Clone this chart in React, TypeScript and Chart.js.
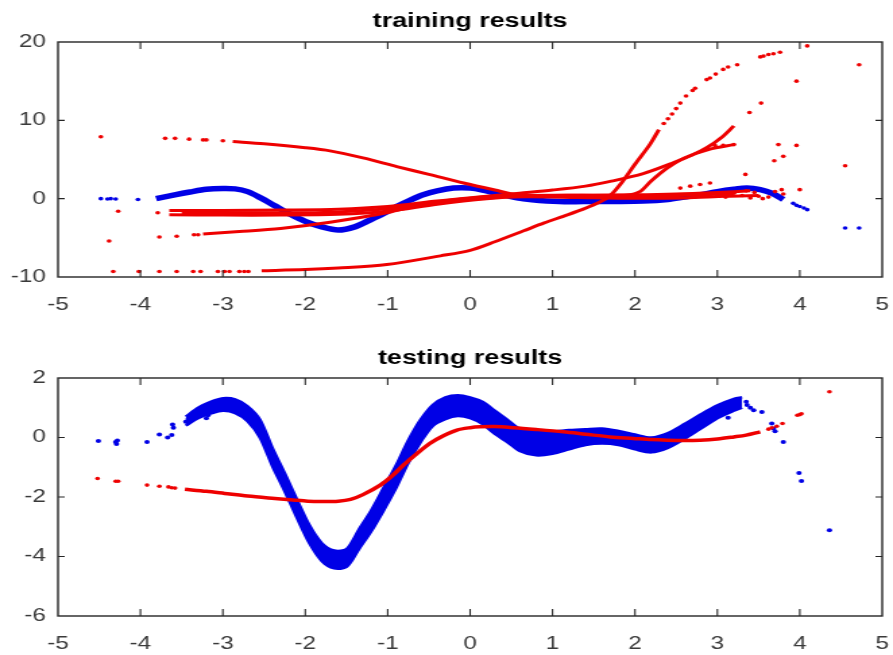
import React, { useEffect, useRef } from 'react';
import { Chart, registerables } from 'chart.js';
Chart.register(...registerables);

// ---------- tick labels ----------
const xTickVals = [-5, -4, -3, -2, -1, 0, 1, 2, 3, 4, 5];
const trainYTicks = [-10, 0, 10, 20];
const testYTicks = [-6, -4, -2, 0, 2];

// ---------- training: blue (targets) ----------
const trainBlueX = [-3.81, -3.6, -3.4, -3.2, -3.0, -2.85, -2.7, -2.55, -2.37, -2.2, -2.0, -1.8, -1.6, -1.4, -1.21, -1.05, -0.89, -0.73, -0.57, -0.4, -0.2, 0.0, 0.15, 0.35, 0.57, 0.75, 0.93, 1.2, 1.5, 1.8, 2.1, 2.4, 2.6, 2.8, 3.0, 3.2, 3.36, 3.52, 3.66, 3.8];
const trainBlueY = [0.0, 0.45, 0.85, 1.2, 1.3, 1.25, 0.9, 0.15, -0.9, -1.9, -2.9, -3.6, -4.0, -3.6, -2.7, -1.9, -1.0, -0.2, 0.5, 1.0, 1.35, 1.35, 1.1, 0.6, 0.1, -0.15, -0.3, -0.4, -0.35, -0.35, -0.3, -0.1, 0.2, 0.5, 0.9, 1.2, 1.35, 1.15, 0.7, -0.1];
const trainBlueDotsX = [-4.48, -4.4, -4.36, -4.3, -4.03, 3.92, 3.96, 4.0, 4.05, 4.09, 4.55, 4.72];
const trainBlueDotsY = [0.0, -0.05, 0.0, -0.05, -0.1, -0.6, -0.85, -1.0, -1.2, -1.4, -3.75, -3.75];

// ---------- training: red (network outputs) ----------
const lineAX = [-2.88, -2.5, -2.0, -1.7, -1.3, -0.89, -0.5, -0.08, 0.3, 0.57, 0.9, 1.3, 1.8, 2.3, 2.8, 3.2];
const lineAY = [7.3, 7.0, 6.5, 6.1, 5.2, 4.1, 3.1, 2.0, 1.1, 0.5, 0.35, 0.3, 0.3, 0.35, 0.5, 0.6];
const lineBX = [-3.65, -3.0, -2.3, -1.6, -1.0, -0.4, 0.2, 0.6, 1.0, 1.4, 1.7, 2.1, 2.47, 2.7, 2.87, 3.05, 3.2];
const lineBY = [-1.5, -1.5, -1.45, -1.35, -1.0, -0.3, 0.3, 0.7, 1.1, 1.6, 2.2, 3.2, 4.6, 5.6, 6.5, 7.8, 9.3];
const lineHX = [-3.5, -2.8, -2.0, -1.6, -1.0, -0.4, 0.2, 0.7, 1.3, 2.0, 2.6, 3.1, 3.5];
const lineHY = [-1.8, -1.8, -1.8, -1.7, -1.3, -0.5, 0.1, 0.25, 0.15, 0.05, 0.1, 0.3, 0.4];
const lineGX = [-3.65, -3.0, -2.3, -1.6, -1.0, -0.4, 0.2, 0.7, 1.3, 2.0, 2.5, 3.0, 3.4];
const lineGY = [-2.05, -2.1, -2.1, -2.0, -1.6, -0.7, 0.0, 0.35, 0.45, 0.5, 0.6, 0.8, 1.0];
const lineDX = [-3.24, -2.8, -2.3, -1.7, -1.01, -0.49, 0.0, 0.57, 1.1, 1.6, 1.9, 2.06, 2.2, 2.39, 2.6, 2.9, 3.2];
const lineDY = [-4.5, -4.2, -3.8, -3.0, -1.8, -0.55, 0.05, 0.4, 0.45, 0.4, 0.45, 0.9, 2.3, 3.9, 5.2, 6.3, 6.9];
const lineEX = [-2.53, -2.0, -1.6, -1.01, -0.36, 0.0, 0.3, 0.65, 0.9, 1.13, 1.38, 1.58, 1.7, 1.85, 2.0, 2.18, 2.29];
const lineEY = [-9.2, -9.05, -8.85, -8.4, -7.3, -6.6, -5.5, -4.1, -3.1, -2.25, -1.3, -0.4, 0.4, 2.2, 4.4, 6.9, 8.8];
const trainRedDotsX = [
  -4.33, -4.02, -3.77, -3.56, -3.36, -3.27, -3.06, -2.98, -2.92, -2.8, -2.74, -2.69,
  2.35, 2.4, 2.45, 2.5, 2.55, 2.62, 2.7, 2.73, 2.87, 2.91, 2.98, 3.07, 3.13, 3.24, 3.52, 3.56, 3.62, 3.68, 3.76, 4.09,
  -4.48, -3.7, -3.58, -3.41, -3.24, -3.2, -3.0, -4.27, -3.79, -4.38, -3.77, -3.56, -3.35, -3.3,
  3.96, 3.39, 3.53, 3.74, 3.96, 3.8, 3.69, 3.34, 4.0, 3.78, 4.72, 4.55, 3.2, 3.07, 2.97,
  2.91, 2.79, 2.67, 2.55, 3.0, 3.1, 3.2, 3.3, 3.4, 3.5, 3.55, 3.62, 3.7, 3.8, 3.35, 3.45
];
const trainRedDotsY = [
  -9.3, -9.3, -9.3, -9.3, -9.3, -9.3, -9.3, -9.3, -9.3, -9.3, -9.3, -9.3,
  9.6, 10.2, 10.8, 11.5, 12.2, 13.1, 13.8, 14.1, 15.2, 15.4, 15.9, 16.5, 16.8, 17.1, 18.1, 18.2, 18.4, 18.5, 18.7, 19.5,
  7.9, 7.7, 7.7, 7.6, 7.5, 7.5, 7.4, -1.6, -1.8, -5.4, -4.9, -4.8, -4.6, -4.6,
  15.0, 11.0, 12.2, 6.9, 6.8, 5.4, 4.85, 3.1, 1.15, 1.15, 17.1, 4.2, 6.9, 6.8, 6.8,
  2.0, 1.8, 1.6, 1.35, 0.5, 0.2, 0.7, 0.4, 0.1, 0.3, 0.0, 0.2, 0.9, 0.6, 1.0, 0.8
];

// ---------- testing: blue band (upper / lower edge of the cloud) ----------
const testBandX = [-3.45, -3.3, -3.15, -3.0, -2.85, -2.7, -2.55, -2.4, -2.25, -2.1, -1.95, -1.8, -1.65, -1.5, -1.35, -1.2, -1.05, -0.9, -0.75, -0.6, -0.45, -0.3, -0.15, 0.0, 0.15, 0.3, 0.45, 0.6, 0.8, 1.0, 1.2, 1.4, 1.6, 1.8, 2.0, 2.2, 2.4, 2.6, 2.8, 3.0, 3.2, 3.3];
const testUpperY = [0.7, 1.0, 1.2, 1.32, 1.28, 1.05, 0.6, -0.35, -1.2, -2.1, -2.95, -3.55, -3.8, -3.75, -3.1, -2.45, -1.7, -0.95, -0.1, 0.6, 1.1, 1.35, 1.42, 1.35, 1.2, 0.9, 0.6, 0.3, 0.2, 0.2, 0.25, 0.28, 0.3, 0.22, 0.1, 0.0, 0.15, 0.45, 0.78, 1.08, 1.3, 1.35];
const testLowerY = [0.4, 0.65, 0.8, 0.9, 0.82, 0.55, 0.0, -0.95, -1.8, -2.7, -3.55, -4.15, -4.4, -4.35, -3.75, -3.15, -2.45, -1.7, -0.85, -0.15, 0.4, 0.62, 0.72, 0.65, 0.45, 0.12, -0.15, -0.45, -0.6, -0.55, -0.4, -0.25, -0.2, -0.25, -0.4, -0.5, -0.35, -0.05, 0.3, 0.65, 0.9, 1.0];
const testBlueDotsX = [-4.51, -4.3, -4.29, -4.28, -3.92, -3.77, -3.67, -3.62, -3.6, -3.61, -3.45, -3.42, -3.38, -3.35, -3.3, -3.28, -3.25, -3.2, -3.18, 3.13, 3.35, 3.36, 3.4, 3.44, 3.54, 3.66, 3.68, 3.7, 3.8, 3.99, 4.02, 4.36];
const testBlueDotsY = [-0.12, -0.15, -0.22, -0.1, -0.15, 0.1, 0.0, 0.08, 0.33, 0.44, 0.53, 0.62, 0.72, 0.78, 0.7, 0.95, 0.82, 0.65, 0.75, 0.66, 1.2, 1.09, 1.0, 0.92, 0.86, 0.47, 0.3, 0.21, -0.15, -1.19, -1.46, -3.12];

// ---------- testing: red (network output) ----------
const testRedX = [-3.46, -3.2, -2.98, -2.7, -2.37, -2.15, -1.97, -1.8, -1.6, -1.45, -1.3, -1.09, -0.95, -0.81, -0.65, -0.49, -0.33, -0.16, 0.0, 0.12, 0.3, 0.53, 0.8, 1.13, 1.4, 1.7, 1.98, 2.2, 2.39, 2.6, 2.79, 3.0, 3.2, 3.35, 3.52];
const testRedY = [-1.74, -1.81, -1.88, -1.97, -2.05, -2.1, -2.14, -2.15, -2.14, -2.08, -1.92, -1.6, -1.3, -0.93, -0.55, -0.2, 0.05, 0.25, 0.33, 0.36, 0.37, 0.33, 0.27, 0.19, 0.11, 0.02, -0.03, -0.07, -0.09, -0.1, -0.09, -0.05, 0.02, 0.08, 0.19];
const testRedDotsX = [-4.52, -4.3, -4.27, -3.92, -3.77, -3.66, -3.62, -3.58, 3.62, 3.66, 3.72, 3.79, 3.97, 4.0, 4.02, 4.36];
const testRedDotsY = [-1.38, -1.47, -1.47, -1.6, -1.64, -1.66, -1.69, -1.7, 0.28, 0.33, 0.38, 0.47, 0.75, 0.77, 0.8, 1.54];

const RED = 'rgb(238,0,0)';
const BLUE = 'rgb(0,0,230)';
const FONT = 'Liberation Sans, Arial, sans-serif';

const pts = (xs: number[], ys: number[]) => xs.map((x, i) => ({ x, y: ys[i] }));

const lineDs = (xs: number[], ys: number[], color: string, width: number) => ({
  type: 'line' as const,
  data: pts(xs, ys),
  borderColor: color,
  backgroundColor: color,
  borderWidth: width,
  pointRadius: 0,
  tension: 0.3,
  fill: false,
});

const dotDs = (xs: number[], ys: number[], color: string, r: number) => ({
  type: 'line' as const,
  data: pts(xs, ys),
  showLine: false,
  borderColor: color,
  backgroundColor: color,
  pointBackgroundColor: color,
  pointBorderWidth: 0,
  pointRadius: r,
});

const framePlugin = {
  id: 'matlabFrame',
  afterDatasetsDraw(chart: any) {
    const { ctx, chartArea: a, scales } = chart;
    const xs = scales.x;
    const ys = scales.y;
    ctx.save();
    ctx.strokeStyle = '#262626';
    ctx.lineWidth = 1.1;
    ctx.beginPath();
    xs.ticks.forEach((t: any) => {
      const px = xs.getPixelForValue(t.value);
      if (px <= a.left + 1 || px >= a.right - 1) return;
      ctx.moveTo(px, a.bottom);
      ctx.lineTo(px, a.bottom - 7);
      ctx.moveTo(px, a.top);
      ctx.lineTo(px, a.top + 7);
    });
    ys.ticks.forEach((t: any) => {
      const py = ys.getPixelForValue(t.value);
      if (py <= a.top + 1 || py >= a.bottom - 1) return;
      ctx.moveTo(a.left, py);
      ctx.lineTo(a.left + 5, py);
      ctx.moveTo(a.right, py);
      ctx.lineTo(a.right - 5, py);
    });
    ctx.stroke();
    ctx.lineWidth = 1.4;
    ctx.strokeRect(a.left, a.top, a.right - a.left, a.bottom - a.top);
    ctx.restore();
  },
};

function makeOptions(
  title: string,
  padTop: number,
  padBottom: number,
  xAxisHeight: number,
  yTicks: number[],
) {
  const tickFont = { family: FONT, size: 18 };
  return {
    responsive: false,
    animation: false as const,
    events: [],
    layout: { padding: { left: 0, right: 8, top: 0, bottom: 0 } },
    plugins: {
      legend: { display: false },
      tooltip: { enabled: false },
      title: {
        display: true,
        text: title,
        fullSize: false,
        color: '#000',
        font: { family: FONT, size: 20, weight: 'bold' as const },
        padding: { top: padTop, bottom: padBottom },
      },
    },
    scales: {
      x: {
        type: 'linear' as const,
        min: xTickVals[0],
        max: xTickVals[xTickVals.length - 1],
        afterBuildTicks: (s: any) => {
          s.ticks = xTickVals.map((v) => ({ value: v }));
        },
        afterFit: (s: any) => {
          s.height = xAxisHeight;
          s.paddingLeft = 0;
          s.paddingRight = 0;
        },
        grid: { display: false, drawTicks: false },
        border: { display: false },
        ticks: {
          padding: 17,
          color: '#3a3a3a',
          font: tickFont,
          autoSkip: false,
          maxRotation: 0,
          callback: (v: any) => String(v),
        },
      },
      y: {
        type: 'linear' as const,
        min: yTicks[0],
        max: yTicks[yTicks.length - 1],
        afterBuildTicks: (s: any) => {
          s.ticks = yTicks.map((v) => ({ value: v }));
        },
        afterFit: (s: any) => {
          s.width = 43;
        },
        grid: { display: false, drawTicks: false },
        border: { display: false },
        ticks: {
          padding: 9,
          color: '#3a3a3a',
          font: tickFont,
          autoSkip: false,
          callback: (v: any) => String(v),
        },
      },
    },
  };
}

export default function App() {
  const topRef = useRef<HTMLCanvasElement>(null);
  const botRef = useRef<HTMLCanvasElement>(null);

  useEffect(() => {
    const c1 = new Chart(topRef.current as HTMLCanvasElement, {
      type: 'line',
      data: {
        datasets: [
          lineDs(lineEX, lineEY, RED, 3),
          lineDs(lineDX, lineDY, RED, 3),
          lineDs(lineGX, lineGY, RED, 3),
          lineDs(lineHX, lineHY, RED, 3),
          lineDs(lineBX, lineBY, RED, 3),
          lineDs(lineAX, lineAY, RED, 3),
          dotDs(trainRedDotsX, trainRedDotsY, RED, 1.8),
          lineDs(trainBlueX, trainBlueY, BLUE, 5.5),
          dotDs(trainBlueDotsX, trainBlueDotsY, BLUE, 1.8),
        ] as any,
      },
      options: makeOptions('training results', 9, 9, 43, trainYTicks) as any,
      plugins: [framePlugin],
    });

    const c2 = new Chart(botRef.current as HTMLCanvasElement, {
      type: 'line',
      data: {
        datasets: [
          lineDs(testRedX, testRedY, RED, 3.5),
          dotDs(testRedDotsX, testRedDotsY, RED, 1.8),
          { ...lineDs(testBandX, testUpperY, BLUE, 2.5) },
          { ...lineDs(testBandX, testLowerY, BLUE, 2.5), fill: '-1', backgroundColor: BLUE },
          dotDs(testBlueDotsX, testBlueDotsY, BLUE, 2),
        ] as any,
      },
      options: makeOptions('testing results', 26, 8, 39, testYTicks) as any,
      plugins: [framePlugin],
    });

    return () => {
      c1.destroy();
      c2.destroy();
    };
  }, []);

  return (
    <div style={{ position: 'absolute', left: 0, top: 0, width: 893, height: 655, background: '#fff', overflow: 'hidden' }}>
      <canvas
        ref={topRef}
        width={662}
        height={320}
        style={{ position: 'absolute', left: 0, top: 0, width: 893, height: 320 }}
      />
      <canvas
        ref={botRef}
        width={662}
        height={335}
        style={{ position: 'absolute', left: 0, top: 320, width: 893, height: 335 }}
      />
    </div>
  );
}
